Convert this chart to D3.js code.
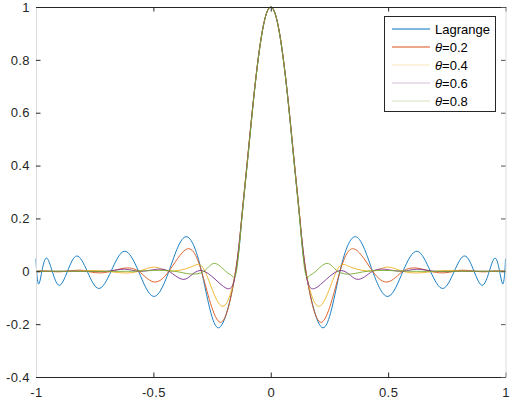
<!DOCTYPE html>
<html>
<head>
<meta charset="utf-8">
<script src="https://cdn.jsdelivr.net/npm/d3@7"></script>
<style>
  body { margin: 0; background: #fff; }
  svg { display: block; font-family: "Liberation Sans", Arial, Helvetica, sans-serif; }
</style>
</head>
<body>
<div id="chart"></div>
<script>
// values (extrema + zero crossings of each curve)
var lagrangeX = [-1, -0.9972, -0.9888, -0.9749, -0.9556, -0.9309, -0.901, -0.866, -0.8262, -0.7818, -0.733, -0.6802, -0.6235, -0.5633, -0.5, -0.4339, -0.3653, -0.2948, -0.2225, -0.149, -0.125, -0.1, -0.075, -0.05, -0.025,
  0, 0.025, 0.05, 0.075, 0.1, 0.125, 0.149, 0.2225, 0.2948, 0.3653, 0.4339, 0.5, 0.5633, 0.6235, 0.6802, 0.733, 0.7818, 0.8262, 0.866, 0.901, 0.9309, 0.9556, 0.9749, 0.9888, 0.9972, 1];
var lagrangeY = [0.048, 0, -0.048, 0, 0.05, 0, -0.053, 0, 0.058, 0, -0.065, 0, 0.076, 0, -0.095, 0, 0.13, 0, -0.214, 0, 0.186, 0.41, 0.635, 0.826, 0.955,
  1, 0.955, 0.826, 0.635, 0.41, 0.186, 0, -0.214, 0, 0.13, 0, -0.095, 0, 0.076, 0, -0.065, 0, 0.058, 0, -0.053, 0, 0.05, 0, -0.048, 0, 0.048];

var theta02X = [-1, -0.95, -0.9, -0.826, -0.782, -0.733, -0.68, -0.623, -0.563, -0.5, -0.434, -0.36, -0.295, -0.215, -0.15, -0.125, -0.1, -0.075, -0.05, -0.025,
  0, 0.025, 0.05, 0.075, 0.1, 0.125, 0.15, 0.215, 0.295, 0.36, 0.434, 0.5, 0.563, 0.623, 0.68, 0.733, 0.782, 0.826, 0.9, 0.95, 1];
var theta02Y = [0, 0.001, -0.002, 0.004, 0, -0.006, 0, 0.012, 0, -0.04, 0, 0.083, 0, -0.193, 0, 0.192, 0.417, 0.64, 0.829, 0.956,
  1, 0.956, 0.829, 0.64, 0.417, 0.192, 0, -0.193, 0, 0.083, 0, -0.04, 0, 0.012, 0, -0.006, 0, 0.004, -0.002, 0.001, 0];

var theta04X = [-1, -0.92, -0.85, -0.76, -0.7, -0.63, -0.563, -0.495, -0.434, -0.34, -0.28, -0.208, -0.15, -0.125, -0.1, -0.075, -0.05, -0.025,
  0, 0.025, 0.05, 0.075, 0.1, 0.125, 0.15, 0.208, 0.28, 0.34, 0.434, 0.495, 0.563, 0.63, 0.7, 0.76, 0.85, 0.92, 1];
var theta04Y = [0, 0, 0, 0.003, 0, -0.006, 0, 0.016, 0.001, 0.016, 0, -0.132, 0, 0.19, 0.415, 0.638, 0.828, 0.955,
  1, 0.955, 0.828, 0.638, 0.415, 0.19, 0, -0.132, 0, 0.016, 0.001, 0.016, 0, -0.006, 0, 0.003, 0, 0, 0];

var theta06X = [-1, -0.9, -0.8, -0.7, -0.623, -0.563, -0.5, -0.434, -0.365, -0.29, -0.19, -0.149, -0.125, -0.1, -0.075, -0.05, -0.025,
  0, 0.025, 0.05, 0.075, 0.1, 0.125, 0.149, 0.19, 0.29, 0.365, 0.434, 0.5, 0.563, 0.623, 0.7, 0.8, 0.9, 1];
var theta06Y = [0, 0, 0, 0, 0.008, 0, 0.006, 0, -0.03, 0.002, -0.064, 0, 0.188, 0.412, 0.637, 0.827, 0.955,
  1, 0.955, 0.827, 0.637, 0.412, 0.188, 0, -0.064, 0.002, -0.03, 0, 0.006, 0, 0.008, 0, 0, 0, 0];

var theta08X = [-1, -0.8, -0.6, -0.5, -0.41, -0.345, -0.285, -0.24, -0.192, -0.166, -0.146, -0.125, -0.1, -0.075, -0.05, -0.025,
  0, 0.025, 0.05, 0.075, 0.1, 0.125, 0.146, 0.166, 0.192, 0.24, 0.285, 0.345, 0.41, 0.5, 0.6, 0.8, 1];
var theta08Y = [0, 0, 0, 0.003, 0, -0.01, 0, 0.03, 0, -0.017, 0, 0.18, 0.405, 0.632, 0.824, 0.954,
  1, 0.954, 0.824, 0.632, 0.405, 0.18, 0, -0.017, 0, 0.03, 0, -0.01, 0, 0.003, 0, 0, 0];

var seriesNames = ["Lagrange", "0.2", "0.4", "0.6", "0.8"];
var seriesColors = ["#0072BD", "#D95319", "#EDB120", "#7E2F8E", "#77AC30"];
var xTicks = [-1, -0.5, 0, 0.5, 1];
var yTicks = [-0.4, -0.2, 0, 0.2, 0.4, 0.6, 0.8, 1];

var allX = [lagrangeX, theta02X, theta04X, theta06X, theta08X];
var allY = [lagrangeY, theta02Y, theta04Y, theta06Y, theta08Y];

var width = 512, height = 400;
var padL = 36, padR = 505.5, padT = 7, padB = 377;

var svg = d3.select('#chart').append('svg')
  .attr('width', width)
  .attr('height', height);

var x = d3.scaleLinear().domain([-1, 1]).range([padL, padR]);
var y = d3.scaleLinear().domain([-0.4, 1]).range([padB, padT]);

var fmt = function (d) { return String(d); };   // plain hyphen like matlab

// curves first, axes on top
var line = d3.line()
  .x(function (d) { return x(d[0]); })
  .y(function (d) { return y(d[1]); })
  .curve(d3.curveNatural);

var plot = svg.append('g');
allX.forEach(function (xs, i) {
  var pts = xs.map(function (v, j) { return [v, allY[i][j]]; });
  plot.append('path')
    .datum(pts)
    .attr('d', line)
    .attr('fill', 'none')
    .attr('stroke', seriesColors[i])
    .attr('stroke-width', 0.9)
    .attr('stroke-linejoin', 'round');
});

// axes (ticks point inward)
var tick = 4.5;
var gx = svg.append('g').attr('transform', 'translate(0,' + padB + ')')
  .call(d3.axisBottom(x).tickValues(xTicks).tickFormat(fmt).tickSizeInner(-tick).tickSizeOuter(0).tickPadding(11));
var gxt = svg.append('g').attr('transform', 'translate(0,' + padT + ')')
  .call(d3.axisTop(x).tickValues(xTicks).tickFormat('').tickSizeInner(-tick).tickSizeOuter(0));
var gy = svg.append('g').attr('transform', 'translate(' + padL + ',0)')
  .call(d3.axisLeft(y).tickValues(yTicks).tickFormat(fmt).tickSizeInner(-tick).tickSizeOuter(0).tickPadding(6));
var gyr = svg.append('g').attr('transform', 'translate(' + padR + ',0)')
  .call(d3.axisRight(y).tickValues(yTicks).tickFormat('').tickSizeInner(-tick).tickSizeOuter(0));

[gx, gxt, gy, gyr].forEach(function (g) {
  g.selectAll('text').attr('fill', '#262626').style('font-size', '13px')
    .style('letter-spacing', '0.4px').attr('font-family', null);
  g.selectAll('line').attr('stroke', '#262626');
  g.select('.domain').attr('stroke', '#262626');
});
gy.select('.domain').attr('stroke', '#dcdcdc');
gyr.select('.domain').attr('stroke', '#dcdcdc');
gyr.selectAll('line').attr('stroke', '#555');

// legend
var lg = svg.append('g');
lg.append('rect')
  .attr('x', 384.5).attr('y', 16.5)
  .attr('width', 111).attr('height', 95)
  .attr('fill', '#fff')
  .attr('stroke', '#262626')
  .attr('stroke-width', 1);

seriesNames.forEach(function (name, i) {
  var cy = 29 + i * 18;
  lg.append('line')
    .attr('x1', 392).attr('x2', 430)
    .attr('y1', cy).attr('y2', cy)
    .attr('stroke', seriesColors[i])
    .attr('stroke-width', 1)
    .attr('opacity', i < 2 ? 1 : 0.3);
  var t = lg.append('text')
    .attr('x', 435).attr('y', cy)
    .attr('dy', '0.35em')
    .attr('fill', '#000')
    .style('font-size', '13px');
  if (i === 0) {
    t.text(name);
  } else {
    t.append('tspan').attr('font-style', 'italic').text('\u03B8');
    t.append('tspan').text('=' + name);
  }
});
</script>
</body>
</html>
